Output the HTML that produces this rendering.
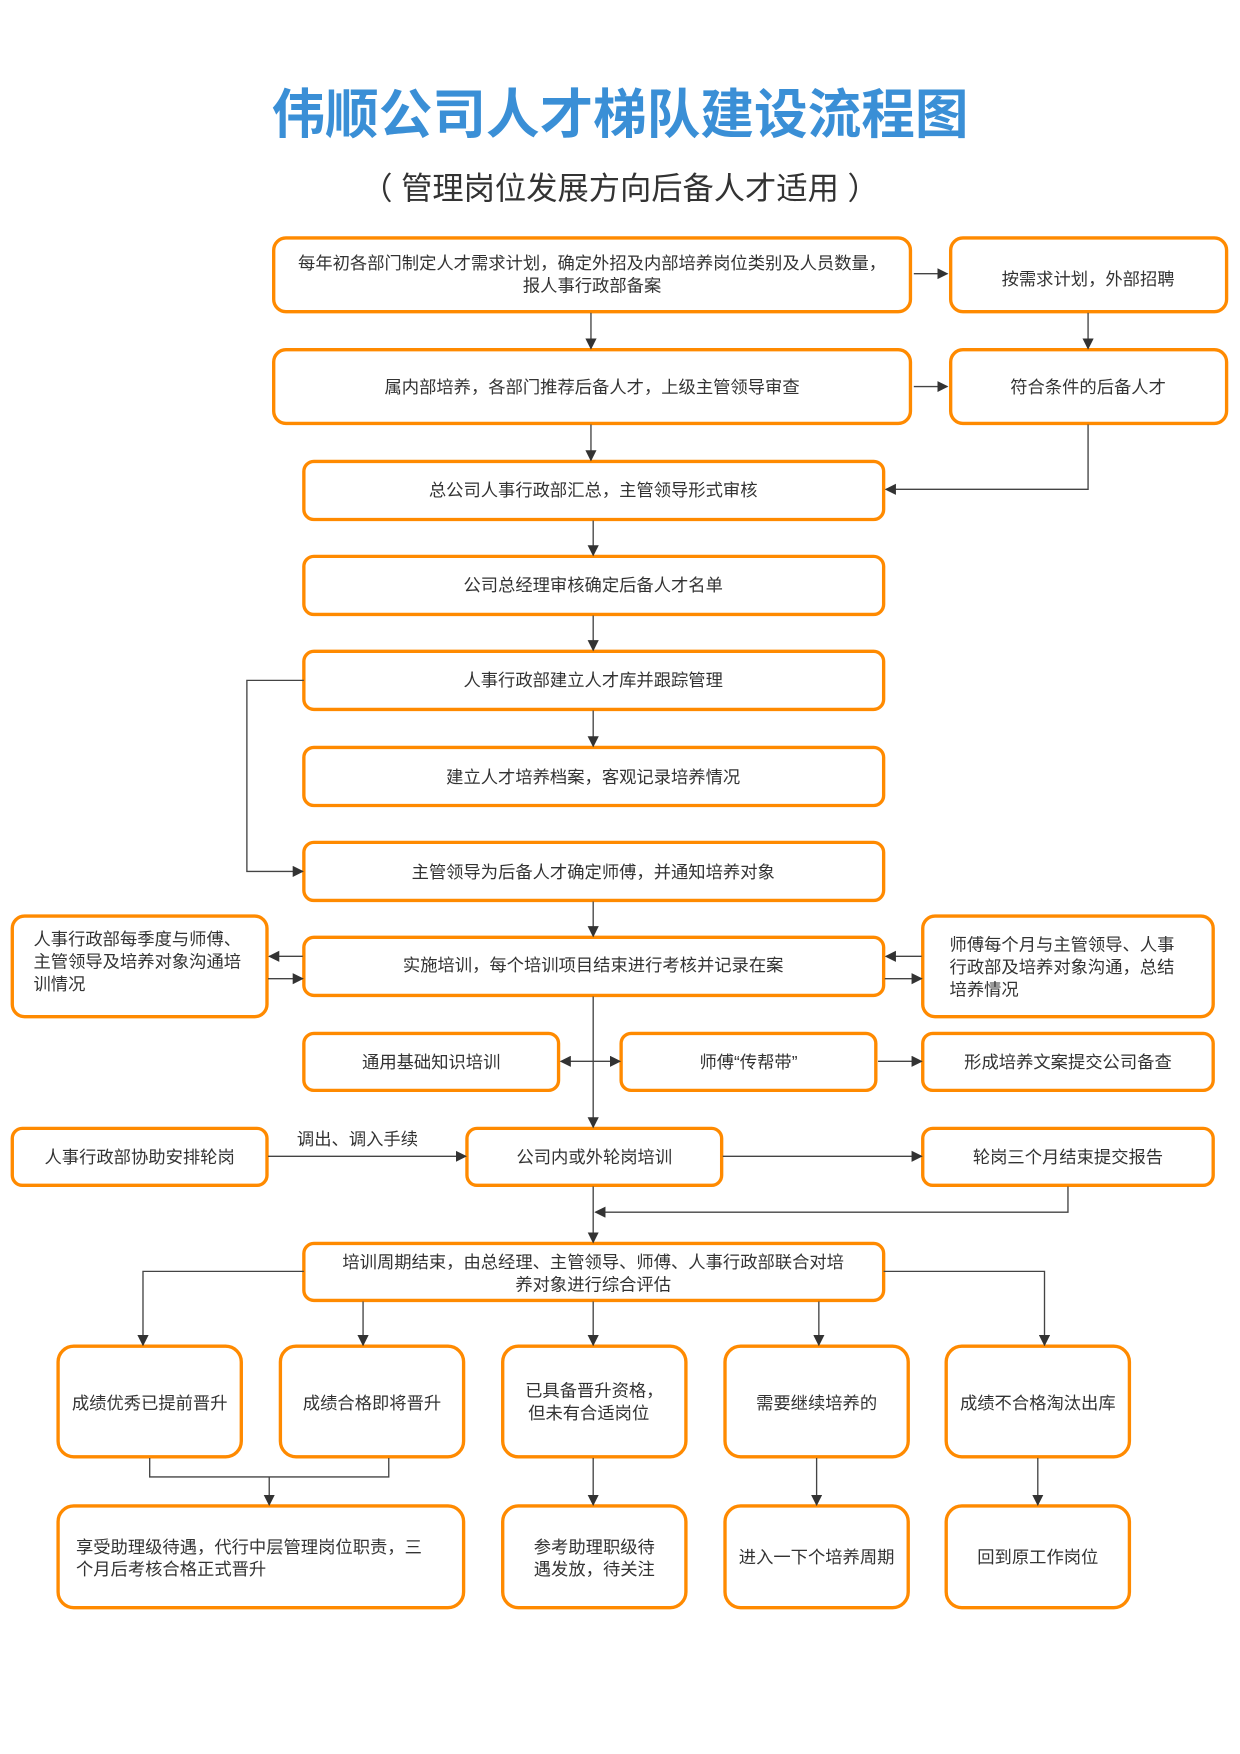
<!DOCTYPE html>
<html><head><meta charset="utf-8"><style>
html,body{margin:0;padding:0;background:#fff;}
svg{display:block;}
text{font-family:"Liberation Sans","Noto Sans CJK SC",sans-serif;fill:#333;font-size:15.5px;}
.b{fill:#fff;stroke:#ff8a00;stroke-width:3;}
.l{stroke:#444;stroke-width:1.2;fill:none;}
</style></head><body>
<svg width="1240" height="1754" viewBox="0 0 1110 1570" preserveAspectRatio="none">
<defs><marker id="a" markerWidth="10" markerHeight="10" refX="9" refY="5" orient="auto" markerUnits="userSpaceOnUse"><path d="M0,0 L10,5 L0,10 z" fill="#333"/></marker>
<marker id="s" markerWidth="10" markerHeight="10" refX="1" refY="5" orient="auto" markerUnits="userSpaceOnUse"><path d="M10,0 L0,5 L10,10 z" fill="#333"/></marker></defs>
<text x="555" y="119" text-anchor="middle" style="font-size:48px;font-weight:bold;fill:#3a8fd6">伟顺公司人才梯队建设流程图</text>
<text x="555" y="178" text-anchor="middle" style="font-size:28px;fill:#333">（ 管理岗位发展方向后备人才适用 ）</text>
<g text-anchor="middle">
<rect class="b" x="245" y="213" width="570" height="66" rx="11"/><text x="530" y="241">每年初各部门制定人才需求计划，确定外招及内部培养岗位类别及人员数量，</text><text x="530" y="261">报人事行政部备案</text>
<rect class="b" x="851" y="213" width="247" height="66" rx="11"/><text x="974" y="255">按需求计划，外部招聘</text>
<rect class="b" x="245" y="313" width="570" height="66" rx="11"/><text x="530" y="352">属内部培养，各部门推荐后备人才，上级主管领导审查</text>
<rect class="b" x="851" y="313" width="247" height="66" rx="11"/><text x="974" y="352">符合条件的后备人才</text>
<rect class="b" x="272" y="413" width="519" height="52" rx="9"/><text x="531" y="444">总公司人事行政部汇总，主管领导形式审核</text>
<rect class="b" x="272" y="498" width="519" height="52" rx="9"/><text x="531" y="529">公司总经理审核确定后备人才名单</text>
<rect class="b" x="272" y="583" width="519" height="52" rx="9"/><text x="531" y="614">人事行政部建立人才库并跟踪管理</text>
<rect class="b" x="272" y="669" width="519" height="52" rx="9"/><text x="531" y="701">建立人才培养档案，客观记录培养情况</text>
<rect class="b" x="272" y="754" width="519" height="52" rx="9"/><text x="531" y="786">主管领导为后备人才确定师傅，并通知培养对象</text>
<rect class="b" x="272" y="839" width="519" height="52" rx="9"/><text x="531" y="869">实施培训，每个培训项目结束进行考核并记录在案</text>
<rect class="b" x="11" y="820" width="228" height="90" rx="11"/>
<rect class="b" x="826" y="820" width="260" height="90" rx="11"/>
<rect class="b" x="272" y="925" width="228" height="51" rx="9"/><text x="386" y="956">通用基础知识培训</text>
<rect class="b" x="556" y="925" width="228" height="51" rx="9"/><text x="670" y="956">师傅“传帮带”</text>
<rect class="b" x="826" y="925" width="260" height="51" rx="9"/><text x="956" y="956">形成培养文案提交公司备查</text>
<rect class="b" x="11" y="1010" width="228" height="51" rx="9"/><text x="125" y="1041">人事行政部协助安排轮岗</text>
<rect class="b" x="418" y="1010" width="228" height="51" rx="9"/><text x="532" y="1041">公司内或外轮岗培训</text>
<rect class="b" x="826" y="1010" width="260" height="51" rx="9"/><text x="956" y="1041">轮岗三个月结束提交报告</text>
<text x="320" y="1025">调出、调入手续</text>
<rect class="b" x="272" y="1113" width="519" height="51" rx="9"/><text x="531" y="1135">培训周期结束，由总经理、主管领导、师傅、人事行政部联合对培</text><text x="531" y="1155">养对象进行综合评估</text>
<rect class="b" x="52" y="1205" width="164" height="99" rx="14"/><text x="134" y="1261">成绩优秀已提前晋升</text>
<rect class="b" x="251" y="1205" width="164" height="99" rx="14"/><text x="333" y="1261">成绩合格即将晋升</text>
<rect class="b" x="450" y="1205" width="164" height="99" rx="14"/><text x="532" y="1250">已具备晋升资格，</text><text x="527" y="1270">但未有合适岗位</text>
<rect class="b" x="649" y="1205" width="164" height="99" rx="14"/><text x="731" y="1261">需要继续培养的</text>
<rect class="b" x="847" y="1205" width="164" height="99" rx="14"/><text x="929" y="1261">成绩不合格淘汰出库</text>
<rect class="b" x="52" y="1348" width="363" height="91" rx="14"/>
<rect class="b" x="450" y="1348" width="164" height="91" rx="14"/><text x="532" y="1390">参考助理职级待</text><text x="532" y="1410">遇发放，待关注</text>
<rect class="b" x="649" y="1348" width="164" height="91" rx="14"/><text x="731" y="1399">进入一下个培养周期</text>
<rect class="b" x="847" y="1348" width="164" height="91" rx="14"/><text x="929" y="1399">回到原工作岗位</text>
</g>
<text x="30" y="846">人事行政部每季度与师傅、</text><text x="30" y="866">主管领导及培养对象沟通培</text><text x="30" y="886">训情况</text>
<text x="850" y="851">师傅每个月与主管领导、人事</text><text x="850" y="871">行政部及培养对象沟通，总结</text><text x="850" y="891">培养情况</text>
<text x="68" y="1390">享受助理级待遇，代行中层管理岗位职责，三</text><text x="68" y="1410">个月后考核合格正式晋升</text>
<g class="l">
<path d="M818 245H848" marker-end="url(#a)"/>
<path d="M529 280V312" marker-end="url(#a)"/>
<path d="M974 280V312" marker-end="url(#a)"/>
<path d="M818 346H848" marker-end="url(#a)"/>
<path d="M529 380V412" marker-end="url(#a)"/>
<path d="M974 380V438H793" marker-end="url(#a)"/>
<path d="M531 466V497" marker-end="url(#a)"/>
<path d="M531 551V582" marker-end="url(#a)"/>
<path d="M531 636V668" marker-end="url(#a)"/>
<path d="M272 609H221V780H271" marker-end="url(#a)"/>
<path d="M531 807V838" marker-end="url(#a)"/>
<path d="M271 856H241" marker-end="url(#a)"/>
<path d="M240 876H271" marker-end="url(#a)"/>
<path d="M825 856H793" marker-end="url(#a)"/>
<path d="M792 876H825" marker-end="url(#a)"/>
<path d="M531 892V1009" marker-end="url(#a)"/>
<path d="M502 950H555" marker-start="url(#s)" marker-end="url(#a)"/>
<path d="M786 950H825" marker-end="url(#a)"/>
<path d="M240 1035H417" marker-end="url(#a)"/>
<path d="M647 1035H825" marker-end="url(#a)"/>
<path d="M956 1062V1085H533" marker-end="url(#a)"/>
<path d="M531 1062V1112" marker-end="url(#a)"/>
<path d="M272 1138H128V1204" marker-end="url(#a)"/>
<path d="M791 1138H935V1204" marker-end="url(#a)"/>
<path d="M325 1165V1204" marker-end="url(#a)"/>
<path d="M531 1165V1204" marker-end="url(#a)"/>
<path d="M733 1165V1204" marker-end="url(#a)"/>
<path d="M134 1305V1322H348V1305"/>
<path d="M241 1322V1347" marker-end="url(#a)"/>
<path d="M531 1305V1347" marker-end="url(#a)"/>
<path d="M731 1305V1347" marker-end="url(#a)"/>
<path d="M929 1305V1347" marker-end="url(#a)"/>
</g>
</svg>
</body></html>
